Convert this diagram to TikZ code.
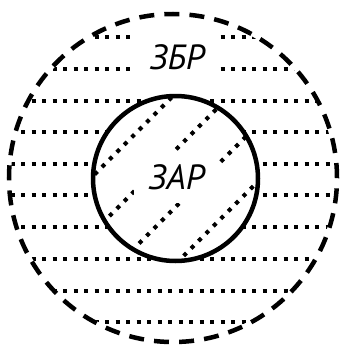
\documentclass[tikz,border=0pt]{standalone}
\usepackage{fontspec}
\setmainfont{PT Sans}
\begin{document}
\begin{tikzpicture}[x=1pt,y=-1pt,
  hatch/.style={line width=4pt, dash pattern=on 4pt off 6.5pt},
  zone/.style={font=\fontsize{35}{35}\selectfont\itshape, fill=white, inner sep=0pt}]
\useasboundingbox (0,0) rectangle (343,348);
% horizontal hatching of the outer zone
\begin{scope}
  \clip (173,178) circle [radius=162pt];
  \foreach \y in {36.7,69,100.7,132.3,164,195.3,227.3,259,290.7,322.3}
    \draw[hatch] (0,\y) -- (343,\y);
\end{scope}
\fill[white] (175.5,178.5) circle [radius=82.5pt];
% diagonal hatching of the inner zone
\begin{scope}
  \clip (175.5,178.5) circle [radius=82.5pt];
  \foreach \c in {269,325.5,382.5,439.5}
    \draw[hatch] (50,{\c-50}) -- (300,{\c-300});
\end{scope}
\node[zone, minimum width=86pt, minimum height=50pt] (zbr) at (177,57) {ЗБР};
\node[zone, minimum width=85pt, minimum height=51pt] (zar) at (176.5,177) {ЗАР};
\draw[line width=4.5pt] (175.5,178.5) circle [radius=82.5pt];
\draw[line width=4.5pt, dash pattern=on 15pt off 10.13pt] (173,178) circle [radius=164pt];
\end{tikzpicture}
\end{document}
